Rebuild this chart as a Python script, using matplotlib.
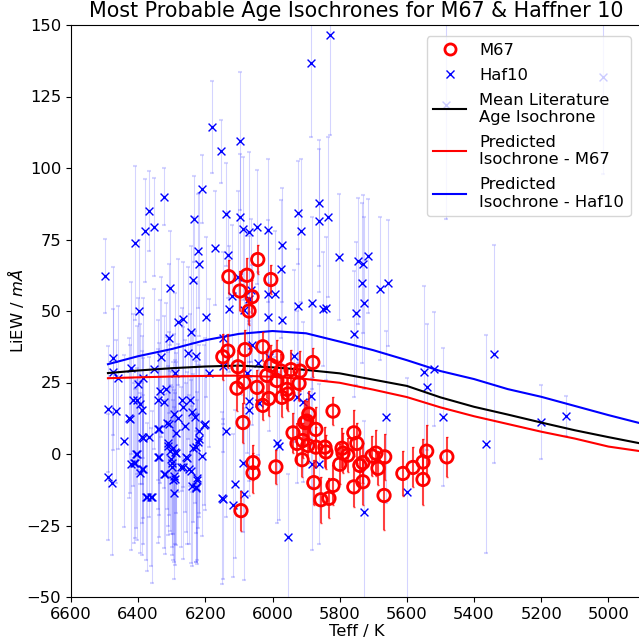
import matplotlib

matplotlib.use("Agg")
import matplotlib.pyplot as plt
from matplotlib.lines import Line2D

WIDTH = 639
HEIGHT = 642
DPI = 100

# M67 stars
m67_teff = [6044, 6130, 6076, 6005, 6097, 6061, 6070, 6133, 6082, 6029, 6148, 6103, 5987, 5880, 6005, 6017,
            5975, 5945, 5918, 6085, 6106, 6046, 5987, 5957, 5921, 6011, 5972, 5954, 6029, 6088, 5892, 5820,
            5904, 5898, 5939, 5871, 5910, 5927, 5895, 5871, 5844, 5841, 5793, 5790, 5776, 5758, 5749, 5912,
            6058, 6058, 5990, 5877, 5820, 5856, 5832, 5758, 5731, 5740, 5731, 5800, 6094, 5704, 5692, 5686,
            5666, 5668, 5612, 5582, 5552, 5552, 5541, 5481]
m67_liew = [68, 62, 62.5, 61, 57, 55, 50, 36, 36.5, 37.5, 34, 30.5, 34, 32, 31, 27.5,
            29, 29.5, 29, 25, 23, 23.3, 25.7, 22.6, 24.7, 19.4, 19.8, 21, 17, 11, 14, 15,
            11, 11.5, 7.4, 8.6, 4.7, 3.7, 3, 2.4, 2.4, 0.7, 2, 0.3, -0.4, 7.4, 3.7, -2,
            -3, -6.6, -4.5, -10, -11, -16, -15.5, -11.5, -9.7, -4, -3, -3.6, -19.8, -0.7, 0.3, -5,
            -1, -14.5, -6.8, -4.7, -2.8, -8.9, 1, -1]
m67_err = [5, 6, 6, 5, 7, 6, 5, 6, 7, 5, 8, 6, 6, 5, 7, 8, 6, 7, 7, 7, 8, 6, 7, 7, 6, 6, 7, 6, 5, 7,
           8, 5, 8, 7, 7, 8, 6, 7, 6, 7, 7, 6, 7, 7, 6, 8, 7, 6, 6, 7, 6, 8, 7, 8, 7, 7, 8, 6, 7, 7,
           7, 7, 8, 6, 8, 12, 8, 7, 8, 9, 9, 7]

# Haffner 10 stars
haf_teff = [5829, 5886, 6180, 6154, 6097, 6499, 6410, 6380, 6368, 6353,
            6323, 6305, 6398, 6282, 6267, 6234, 6210, 6222, 6219, 6237,
            6198, 6171, 6139, 6133, 6121, 6130, 6103, 6097, 6088, 6070,
            6046, 6014, 5993, 6014, 5972, 5975, 5924, 5916, 5924, 5883,
            5862, 5862, 5835, 5850, 5802, 6064, 6070, 5746, 5731, 5716,
            5734, 5680, 5657, 5728, 5752, 5017, 5484, 5758, 5663, 5549,
            5520, 5541, 5493, 5728, 5600, 5365, 5341, 5201, 5127, 6070,
            6070, 6041, 6139, 5987, 5981, 6088, 5883, 5862, 6112, 6085,
            6148, 6118, 5954, 5927, 5910, 5886, 6085, 6014, 5972, 5841,
            6148, 6061, 6011, 5936, 6043, 6076, 6243, 6308, 6475, 6421,
            6332, 6252, 6228, 6148, 6290, 6490, 6466, 6442, 6427, 6421,
            6410, 6490, 6478, 6415, 6395, 6389, 6404, 6395, 6386, 6389,
            6368, 6374, 6359, 6341, 6335, 6317, 6341, 6341, 6323, 6311,
            6314, 6305, 6302, 6299, 6293, 6296, 6293, 6290, 6282, 6288,
            6261, 6273, 6258, 6270, 6246, 6240, 6219, 6228, 6225, 6219,
            6243, 6240, 6228, 6201, 6210, 6151, 6353, 6189, 6475, 6460,
            6386, 6401, 6424, 6293, 6231, 6308, 6386, 6296, 6237, 6338,
            6255, 6320, 6267, 6249, 6225, 6377, 6362, 6267, 6323, 6404,
            6311, 6338, 6407, 6413, 6389, 6288, 6299, 6290, 6228, 6204,
            6222]
haf_liew = [146.5, 136.7, 114.3, 105.9, 109.4, 62.2, 73.8, 78, 85, 79.4,
            89.9, 58, 50, 46.1, 47.2, 82.2, 92.6, 71, 66.4, 60.8,
            47.9, 72, 83.9, 69.6, 55.2, 50.7, 61.9, 82.9, 78.7, 77.6,
            79.4, 78.3, 55.9, 55.9, 73.1, 64.7, 84.3, 78, 51.7, 52.8,
            87.8, 81.5, 82.9, 50.7, 68.9, 57.3, 54.2, 67.5, 66.4, 69.2,
            59.8, 57.7, 59.8, 52.8, 49.3, 131.8, 122, 42, 12.9, 28.7,
            29.7, 23.4, 12.9, -20.3, -13.3, 3.5, 35, 11.2, 13.3, 18.5,
            15.4, 17.8, 8, 3.8, 2.8, -3.2, -3.5, -3.5, -10.5, -14,
            -15.8, -17.9, -29, 19.9, 18.2, 20.3, 50.3, 47.9, 46.8, 51,
            40.5, 38.1, 33.9, 34.2, 31.8, 28.3, 42.6, 40.5, 33.5, 30,
            33.9, 35.3, 34.2, 30.8, 28.3, 15.7, 15, 4.5, 12.6, -3.5,
            -3.2, -8, -10.2, 18.9, 17.5, 15.4, 0, -6.7, -5.3, 5.9,
            5.9, -15, -15, 18.9, 22, 22.7, 8.7, -1.1, -7, 3.8,
            10.8, 1, -1.8, -3.2, -7.7, -9.1, -13.7, 0.7, 12.6, 7.3,
            9.8, -4.6, -1.1, 18.9, 18.9, 14.7, 5.2, 2.4, -9.1, 8,
            -6, -11.2, -11.6, 10.5, -0.7, -15.4, 29.7, 28.3, 28.7, 26.6,
            26.6, 24.5, 12.2, 14, 12.9, 10.5, 5.6, 2.1, 2.1, -1.1,
            -1.4, -7, -4.6, -5.3, -8.4, -15, -15, 16.4, 18.2, 18.9,
            2.8, 8.7, 0, -3.2, -5.3, 0.3, -4.6, -8.8, -11.9, 10.1,
            4.2]
haf_err = [35, 26, 16, 11, 24, 13, 27, 18, 14, 17,
           10, 20, 25, 22, 20, 15, 12, 20, 25, 22,
           28, 20, 18, 15, 25, 22, 30, 22, 25, 28,
           20, 25, 22, 26, 20, 24, 18, 25, 20, 30,
           22, 25, 28, 20, 22, 25, 22, 22, 24, 20,
           28, 25, 22, 30, 25, 34, 40, 22, 30, 30,
           20, 22, 24, 32, 40, 38, 38, 13, 7, 28,
           30, 25, 30, 28, 26, 24, 30, 28, 26, 30,
           28, 25, 22, 30, 28, 32, 28, 30, 26, 25,
           30, 28, 26, 30, 32, 28, 30, 26, 32, 30,
           28, 30, 26, 30, 28, 22, 25, 30, 28, 30,
           26, 22, 25, 30, 28, 26, 30, 28, 26, 30,
           28, 26, 30, 28, 32, 30, 28, 30, 26, 32,
           30, 28, 26, 32, 30, 28, 30, 32, 26, 28,
           30, 28, 26, 32, 30, 28, 26, 30, 28, 30,
           32, 28, 26, 30, 28, 30, 28, 26, 22, 25,
           28, 30, 26, 28, 30, 32, 28, 30, 26, 28,
           30, 28, 32, 26, 30, 22, 24, 28, 30, 26,
           28, 30, 26, 28, 30, 32, 28, 30, 26, 28,
           30]

# isochrones
iso_teff = [6490, 6400, 6300, 6200, 6100, 6000, 5900, 5800, 5700, 5600, 5500, 5400, 5300, 5200, 5100, 5000, 4900]
iso_lit = [28.3, 29.2, 30.0, 30.6, 30.9, 30.3, 29.4, 28.2, 26.0, 23.8, 19.8, 16.5, 13.8, 11.0, 8.3, 5.9, 3.6]
iso_m67 = [26.5, 26.8, 27.1, 27.3, 27.4, 27.0, 26.2, 24.9, 22.5, 19.9, 16.3, 13.2, 10.5, 7.8, 5.4, 2.6, 0.9]
iso_haf = [31.4, 34.2, 36.7, 39.8, 42.0, 43.0, 42.2, 39.3, 36.3, 32.8, 29.0, 26.2, 22.7, 20.0, 16.8, 13.6, 10.6]

FS = 11.8


def draw_points(ax):
    ax.errorbar(haf_teff, haf_liew, yerr=haf_err, fmt="none", ecolor="blue", alpha=0.17,
                elinewidth=0.8, capsize=1.2, capthick=1.5, zorder=1)
    ax.scatter(haf_teff, haf_liew, marker="x", color="blue", s=32, linewidths=1.0, zorder=2)
    ax.errorbar(m67_teff, m67_liew, yerr=m67_err, fmt="none", ecolor="red", alpha=0.75,
                elinewidth=1.5, capsize=1, zorder=4)
    ax.scatter(m67_teff, m67_liew, marker="o", facecolors="none", edgecolors="red", s=80,
               linewidths=2, zorder=5)


def draw_isochrones(ax):
    ax.plot(iso_teff, iso_lit, color="black", lw=1.5, zorder=3)
    ax.plot(iso_teff, iso_m67, color="red", lw=1.5, zorder=3)
    ax.plot(iso_teff, iso_haf, color="blue", lw=1.5, zorder=3)


def draw_legend(ax):
    handles = [
        Line2D([], [], ls="none", marker="o", mfc="none", mec="red", mew=2, ms=8),
        Line2D([], [], ls="none", marker="x", color="blue", mew=1, ms=5.5),
        Line2D([], [], color="black", lw=1.5),
        Line2D([], [], color="red", lw=1.5),
        Line2D([], [], color="blue", lw=1.5),
    ]
    labels = ["M67", "Haf10", "Mean Literature\nAge Isochrone",
              "Predicted\nIsochrone - M67", "Predicted\nIsochrone - Haf10"]
    ax.legend(handles, labels, loc="upper right", fontsize=FS, borderaxespad=0.7,
              labelspacing=0.6)


def main():
    fig = plt.figure(figsize=(WIDTH / DPI, HEIGHT / DPI), dpi=DPI)
    ax = fig.add_axes([71 / WIDTH, 45 / HEIGHT, 571 / WIDTH, 572 / HEIGHT])

    draw_points(ax)
    draw_isochrones(ax)

    ax.set_xlim(6600, 4900)
    ax.set_ylim(-50, 150)
    ax.set_xticks([6600, 6400, 6200, 6000, 5800, 5600, 5400, 5200, 5000])
    ax.set_yticks([-50, -25, 0, 25, 50, 75, 100, 125, 150])
    ax.tick_params(labelsize=FS)
    ax.set_xlabel("Teff / K", fontsize=FS, labelpad=1.5)
    ax.set_ylabel("LiEW / $mÅ$", fontsize=FS, labelpad=0.5)
    ax.set_title("Most Probable Age Isochrones for M67 & Haffner 10", fontsize=14.9)

    draw_legend(ax)

    fig.savefig("out.png", dpi=DPI)
    plt.close(fig)


if __name__ == "__main__":
    main()
